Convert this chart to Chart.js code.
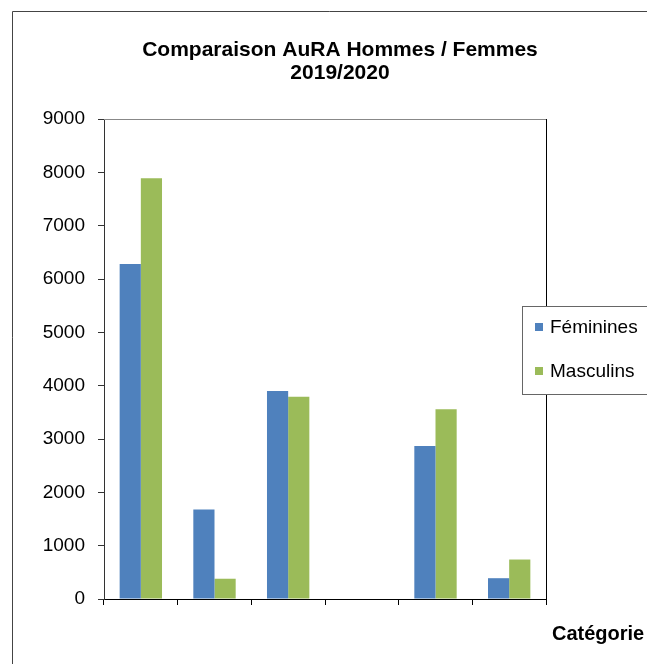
<!DOCTYPE html>
<html lang="fr">
<head>
<meta charset="UTF-8">
<title>Comparaison AuRA Hommes / Femmes 2019/2020</title>
<script src="https://cdn.jsdelivr.net/npm/chart.js"></script>
<style>
  html, body { margin: 0; padding: 0; background: #fff; }
  #wrap { position: relative; width: 647px; height: 664px; }
</style>
</head>
<body>
<div id="wrap"><canvas id="chart" width="647" height="664"></canvas></div>
<script>
  // données
  const categories = ['', '', '', '', '', ''];
  const feminines = [6280, 1680, 3900, 0, 2870, 390];
  const masculins = [7890, 380, 3790, 0, 3560, 740];
  const yTicks = [0, 1000, 2000, 3000, 4000, 5000, 6000, 7000, 8000, 9000];
  const titre = ['Comparaison AuRA Hommes / Femmes', '2019/2020'];
  const titreAxeX = 'Catégorie';

  const FONT = "'Liberation Sans', Arial, sans-serif";

  // cadre, titre, légende encadrée, titre d'axe
  const decor = {
    id: 'decor',
    afterDraw(chart) {
      const c = chart.ctx, a = chart.chartArea;
      c.save();
      // bordure extérieure
      c.strokeStyle = '#444';
      c.lineWidth = 1;
      c.beginPath();
      c.moveTo(12.5, 664); c.lineTo(12.5, 11.5); c.lineTo(647, 11.5);
      c.stroke();
      // haut et droite de la zone de tracé
      c.strokeStyle = '#888';
      c.beginPath(); c.moveTo(a.left, a.top + 0.5); c.lineTo(a.right, a.top + 0.5); c.stroke();
      c.strokeStyle = '#000';
      c.beginPath(); c.moveTo(a.right + 0.5, a.top); c.lineTo(a.right + 0.5, a.bottom); c.stroke();

      // titre
      c.fillStyle = '#000';
      c.font = 'bold 21px ' + FONT;
      c.textAlign = 'center';
      c.textBaseline = 'alphabetic';
      c.fillText(titre[0], 340, 56);
      c.fillText(titre[1], 340, 79);

      // titre axe X
      c.font = 'bold 20px ' + FONT;
      c.textAlign = 'left';
      c.fillText(titreAxeX, 552, 640);

      // légende
      c.fillStyle = '#fff';
      c.fillRect(522, 306, 130, 89);
      c.strokeStyle = '#666';
      c.strokeRect(522.5, 306.5, 130, 88);
      c.font = '19px ' + FONT;
      chart.data.datasets.forEach((ds, i) => {
        const y = 327 + i * 44;
        c.fillStyle = ds.backgroundColor;
        c.fillRect(535, y - 4, 8, 8);
        c.fillStyle = '#000';
        c.textBaseline = 'middle';
        c.fillText(ds.label, 550, y + 1);
      });
      c.restore();
    }
  };

  new Chart(document.getElementById('chart'), {
    type: 'bar',
    data: {
      labels: categories,
      datasets: [
        { label: 'Féminines', data: feminines, backgroundColor: '#4F81BD' },
        { label: 'Masculins', data: masculins, backgroundColor: '#9BBB59' }
      ]
    },
    options: {
      responsive: false,
      animation: false,
      layout: { padding: { top: 119, right: 101, left: 0, bottom: 0 } },
      categoryPercentage: 0.575,
      barPercentage: 1.0,
      plugins: { legend: { display: false }, title: { display: false }, tooltip: { enabled: false } },
      scales: {
        x: {
          offset: true,
          grid: { offset: true, drawOnChartArea: false, drawTicks: true, tickLength: 6, color: '#000' },
          border: { color: '#000', width: 1 },
          ticks: { display: true, font: { family: FONT, size: 17 }, color: '#000' },
          afterFit(s) { s.height = 65; }
        },
        y: {
          min: 0,
          max: 9000,
          afterBuildTicks(s) { s.ticks = yTicks.map(v => ({ value: v })); },
          grid: { drawOnChartArea: false, drawTicks: true, tickLength: 6, color: '#333' },
          border: { color: '#333', width: 1 },
          ticks: { padding: 13, color: '#000', font: { family: FONT, size: 19 }, callback: v => String(v) },
          afterFit(s) { s.width = 104; }
        }
      }
    },
    plugins: [decor]
  });
</script>
</body>
</html>
